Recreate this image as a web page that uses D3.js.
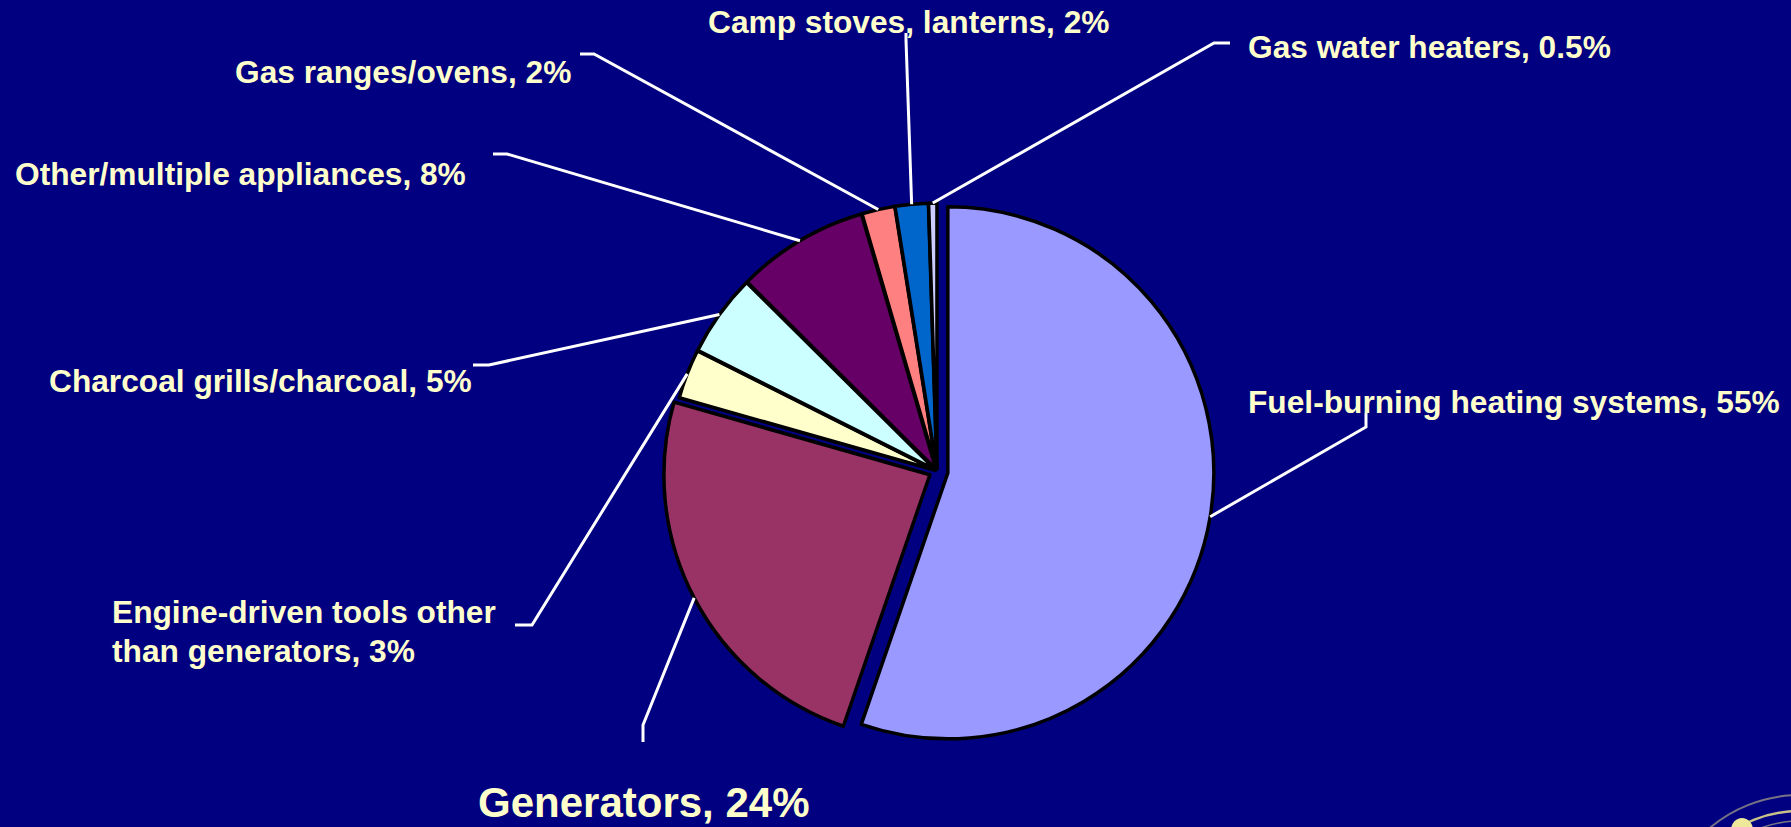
<!DOCTYPE html>
<html>
<head>
<meta charset="utf-8">
<script src="https://cdn.jsdelivr.net/npm/d3@7"></script>
<style>
  html, body { margin: 0; padding: 0; background: #000080; overflow: hidden; }
  svg { display: block; }
</style>
</head>
<body>
<svg id="chart" width="1791" height="827"></svg>
<script>
// ---------------- data ----------------
const categories = [
  "Fuel-burning heating systems",
  "Generators",
  "Engine-driven tools other than generators",
  "Charcoal grills/charcoal",
  "Other/multiple appliances",
  "Gas ranges/ovens",
  "Camp stoves, lanterns",
  "Gas water heaters"
];
const values = [55, 24, 3, 5, 8, 2, 2, 0.5];
const valueLabels = ["55%", "24%", "3%", "5%", "8%", "2%", "2%", "0.5%"];
const colors = ["#9999FF", "#993366", "#FFFFCC", "#CCFFFF", "#660066", "#FF8080", "#0066CC", "#CCCCFF"];

// ---------------- layout (positions / sizes only) ----------------
const W = 1791, H = 827;
const center = { x: 937, y: 471 };
const radius = 266;
const explode = [11, 8, 2, 2, 2, 2, 2, 2];
// label anchor (left x, baseline y), font size, leader elbow and tick end
const labelLayout = [
  { x: 1248, y: 413, size: 31.7, elbow: [1366, 427], tick: [1366, 413] },
  { x: 478,  y: 817, size: 42, elbow: [643, 725],  tick: [643, 742] },
  { x: 112,  y: 623, size: 31.7, elbow: [532, 625],  tick: [515, 625], breakAfter: "other", lineGap: 39 },
  { x: 49,   y: 392, size: 31.7, elbow: [489, 365],  tick: [473, 365] },
  { x: 15,   y: 185, size: 31.7, elbow: [507, 154],  tick: [493, 154] },
  { x: 235,  y: 83,  size: 31.7, elbow: [594, 54],   tick: [580, 54] },
  { x: 708,  y: 33,  size: 31.7, elbow: [906, 40],   tick: [906, 33] },
  { x: 1248, y: 58,  size: 31.7, elbow: [1214, 43],  tick: [1230, 43] }
];

// ---------------- drawing ----------------
const svg = d3.select("#chart");
svg.append("rect").attr("width", W).attr("height", H).attr("fill", "#000080");

const pie = d3.pie().sort(null).value(d => d).startAngle(0).endAngle(2 * Math.PI);
const arcs = pie(values);
const arc = d3.arc().innerRadius(0).outerRadius(radius);

function sliceCenter(a, i) {
  const mid = (a.startAngle + a.endAngle) / 2;
  return [center.x + explode[i] * Math.sin(mid), center.y - explode[i] * Math.cos(mid)];
}

const g = svg.append("g");
g.selectAll("path.slice")
  .data(arcs)
  .join("path")
  .attr("class", "slice")
  .attr("transform", (a, i) => { const c = sliceCenter(a, i); return `translate(${c[0]},${c[1]})`; })
  .attr("d", arc)
  .attr("fill", (a, i) => colors[i])
  .attr("stroke", "#000")
  .attr("stroke-width", 3.5)
  .attr("stroke-linejoin", "round");

// leader lines
const lineGen = d3.line();
svg.append("g").selectAll("path.leader")
  .data(arcs)
  .join("path")
  .attr("class", "leader")
  .attr("d", (a, i) => {
    const c = sliceCenter(a, i);
    const mid = (a.startAngle + a.endAngle) / 2;
    const start = [c[0] + radius * Math.sin(mid), c[1] - radius * Math.cos(mid)];
    const L = labelLayout[i];
    return lineGen([start, L.elbow, L.tick]);
  })
  .attr("fill", "none")
  .attr("stroke", "#FFFFFF")
  .attr("stroke-width", 3);

// labels
const labels = svg.append("g")
  .attr("font-family", "Arial, 'Liberation Sans', Helvetica, sans-serif")
  .attr("font-weight", "bold")
  .attr("fill", "#FFFFCC");

categories.forEach((cat, i) => {
  const L = labelLayout[i];
  const full = `${cat}, ${valueLabels[i]}`;
  let lines = [full];
  if (L.breakAfter) {
    const k = full.indexOf(L.breakAfter) + L.breakAfter.length;
    lines = [full.slice(0, k), full.slice(k).trim()];
  }
  const t = labels.append("text")
    .attr("x", L.x).attr("y", L.y)
    .attr("font-size", L.size);
  lines.forEach((ln, j) => {
    t.append("tspan").attr("x", L.x).attr("y", L.y + j * (L.lineGap || 0)).text(ln);
  });
});

// partial seal in the bottom-right corner
const seal = svg.append("g").attr("fill", "none").attr("stroke", "#C8C28A");
seal.append("circle").attr("cx", 1800).attr("cy", 935).attr("r", 140).attr("stroke-width", 2).attr("opacity", 0.6);
seal.append("circle").attr("cx", 1800).attr("cy", 935).attr("r", 124).attr("stroke-width", 2.5);
seal.append("circle").attr("cx", 1800).attr("cy", 935).attr("r", 114).attr("stroke-width", 1.5).attr("opacity", 0.6);
svg.append("ellipse").attr("cx", 1742).attr("cy", 830).attr("rx", 11).attr("ry", 12).attr("fill", "#EDE89A");
</script>
</body>
</html>
